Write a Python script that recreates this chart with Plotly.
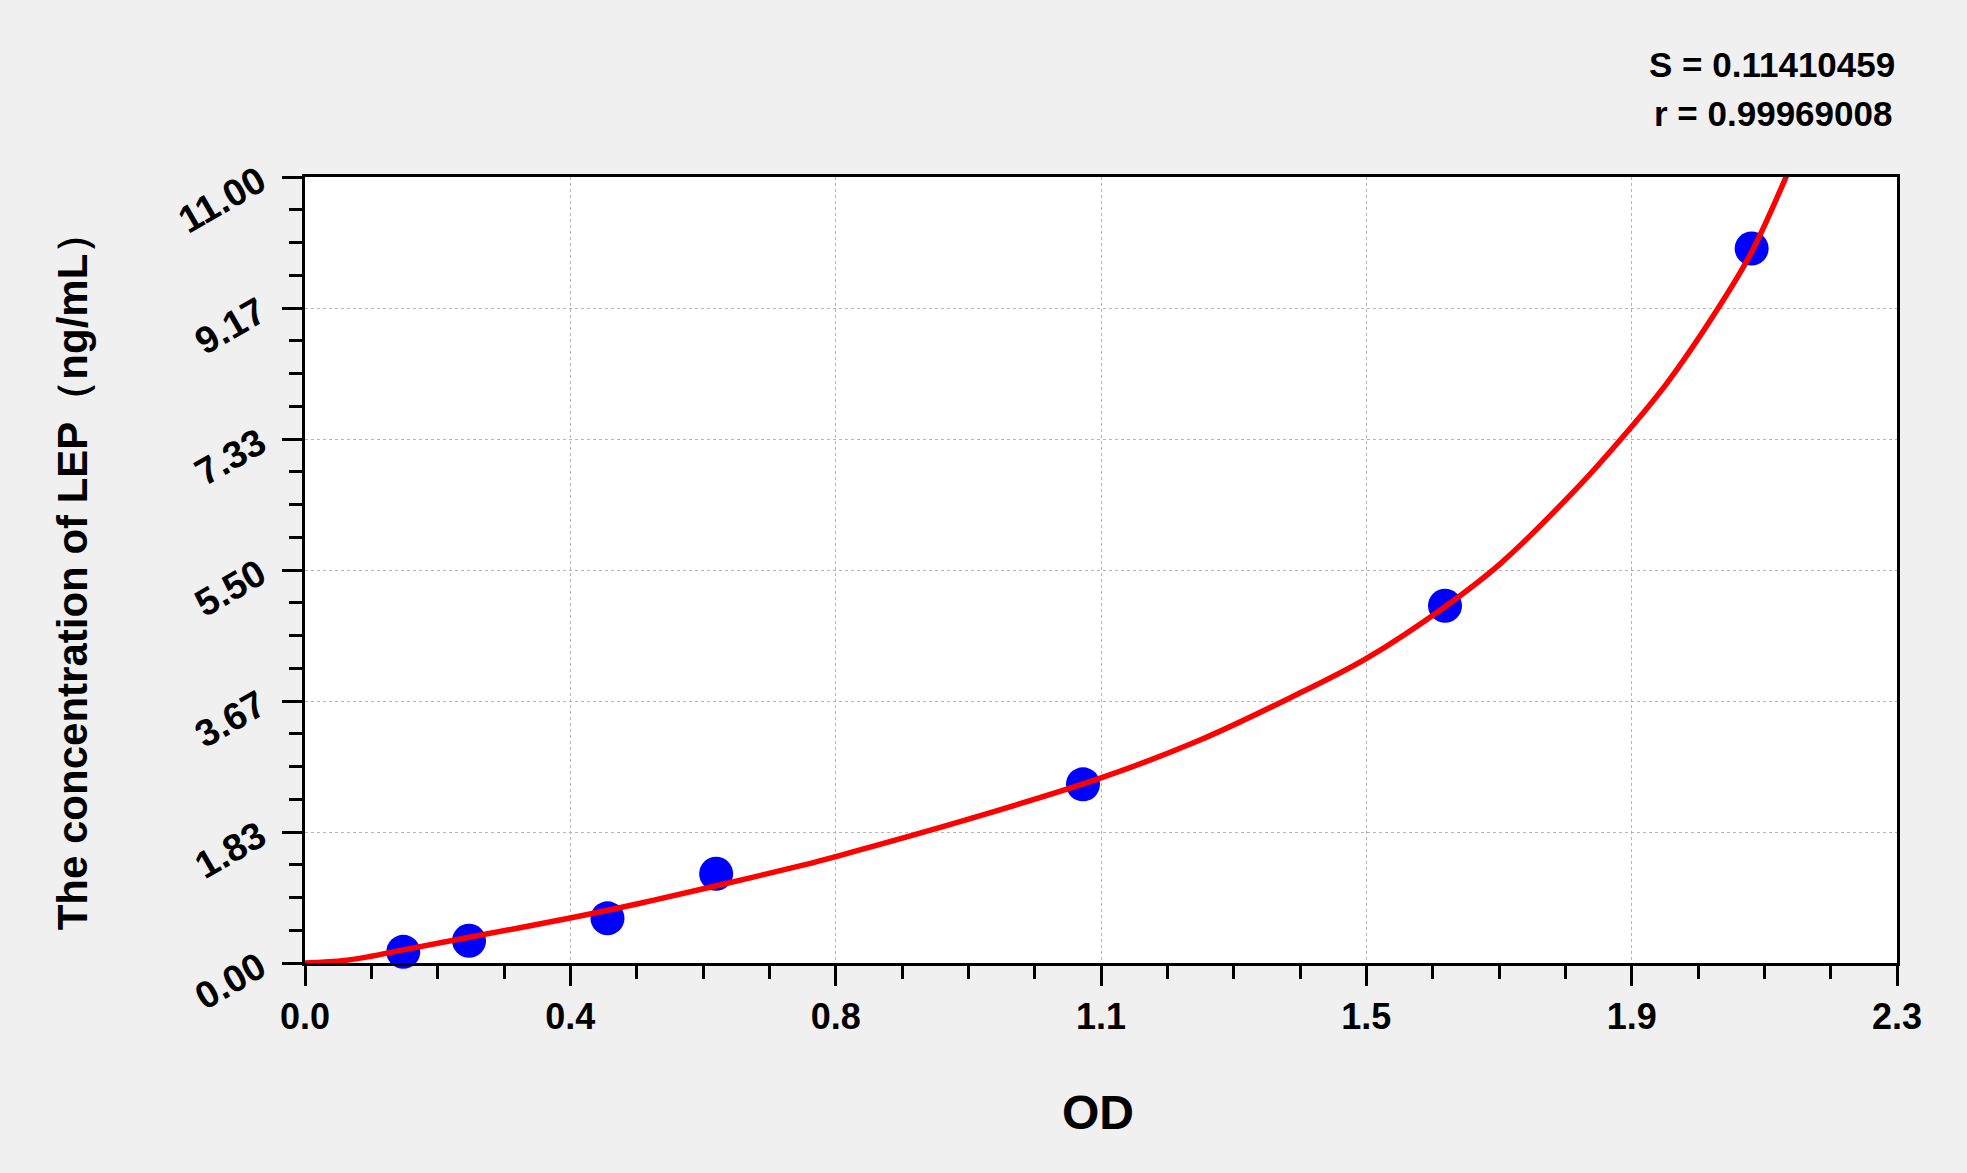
import plotly.graph_objects as go

# ---- data ----
od_points = [0.142, 0.237, 0.437, 0.594, 1.124, 1.647, 2.090]
conc_points = [0.156, 0.3125, 0.625, 1.25, 2.5, 5.0, 10.0]

curve_od = [0.0, 0.057, 0.096, 0.14, 0.237, 0.383, 0.481, 0.585, 0.724, 0.767,
            0.961, 1.15, 1.293, 1.425, 1.533, 1.646, 1.727, 1.838, 1.901, 1.968,
            2.042, 2.090, 2.145]
curve_conc = [0.0, 0.035, 0.095, 0.18, 0.36, 0.63, 0.83, 1.06, 1.38, 1.49,
              2.02, 2.59, 3.12, 3.72, 4.26, 4.98, 5.59, 6.65, 7.33, 8.12,
              9.17, 9.95, 11.12]

x_tick_vals = [0.0, 0.38333, 0.76667, 1.15, 1.53333, 1.91667, 2.3]
x_tick_labels = ["0.0", "0.4", "0.8", "1.1", "1.5", "1.9", "2.3"]
y_tick_vals = [0.0, 1.83333, 3.66667, 5.5, 7.33333, 9.16667, 11.0]
y_tick_labels = ["0.00", "1.83", "3.67", "5.50", "7.33", "9.17", "11.00"]

stat_lines = ["S = 0.11410459", "r = 0.99969008"]
x_title = "OD"
y_title = "The concentration of LEP\uff08ng/mL\uff09"

FONT = "Liberation Sans, Arial, sans-serif"

x_minor = [x_tick_vals[-1] / 24 * i for i in range(25) if i % 4]
y_minor = [y_tick_vals[-1] / 24 * i for i in range(25) if i % 4]

fig = go.Figure()
fig.add_trace(go.Scatter(
    x=od_points, y=conc_points, mode="markers",
    marker=dict(color="#0000ff", size=34, line=dict(width=0)),
    showlegend=False, cliponaxis=False))
fig.add_trace(go.Scatter(
    x=curve_od, y=curve_conc, mode="lines",
    line=dict(color="#ff0000", width=5.5, shape="spline", smoothing=1.0),
    showlegend=False))

axis_common = dict(
    showline=True, linecolor="black", linewidth=3, mirror=True,
    ticks="outside", ticklen=20, tickwidth=3, tickcolor="black",
    showgrid=True, gridcolor="#b4b4b4", gridwidth=1, griddash="dot",
    zeroline=False,
)

fig.update_xaxes(
    range=[0, 2.3], tickmode="array", tickvals=x_tick_vals, ticktext=x_tick_labels,
    minor=dict(tickmode="array", tickvals=x_minor, ticks="outside", ticklen=13,
               tickwidth=3, tickcolor="black", showgrid=False),
    ticklabelstandoff=0,
    tickfont=dict(family=FONT, size=36, color="black", weight="bold"),
    **axis_common)
fig.update_yaxes(
    range=[0, 11], tickmode="array", tickvals=y_tick_vals, ticktext=y_tick_labels,
    minor=dict(tickmode="array", tickvals=y_minor, ticks="outside", ticklen=13,
               tickwidth=3, tickcolor="black", showgrid=False),
    tickangle=-30, ticklabelstandoff=15,
    tickfont=dict(family=FONT, size=38, color="black", weight="bold"),
    **axis_common)

annotations = [
    dict(text=x_title, xref="paper", yref="paper", x=0.498, y=-0.19,
         xanchor="center", yanchor="middle", showarrow=False,
         font=dict(family=FONT, size=48, color="black", weight="bold")),
    dict(text=y_title, xref="paper", yref="paper", x=-0.1464, y=0.4995,
         xanchor="center", yanchor="middle", textangle=-90, showarrow=False,
         font=dict(family=FONT, size=42, color="black", weight="bold")),
    dict(text=stat_lines[0], xref="paper", yref="paper", x=1.0, y=1.1425,
         xanchor="right", yanchor="middle", showarrow=False,
         font=dict(family=FONT, size=35, color="black", weight="bold")),
    dict(text=stat_lines[1], xref="paper", yref="paper", x=0.998, y=1.0814,
         xanchor="right", yanchor="middle", showarrow=False,
         font=dict(family=FONT, size=35, color="black", weight="bold")),
]

fig.update_layout(
    width=1967, height=1173,
    margin=dict(l=305, r=70, t=177, b=210),
    paper_bgcolor="#f0f0f0", plot_bgcolor="white",
    annotations=annotations,
    showlegend=False,
)

fig.write_html("out.html",
               config={"displayModeBar": False},
               post_script="document.body.style.margin='0';document.body.style.background='#f0f0f0';")
